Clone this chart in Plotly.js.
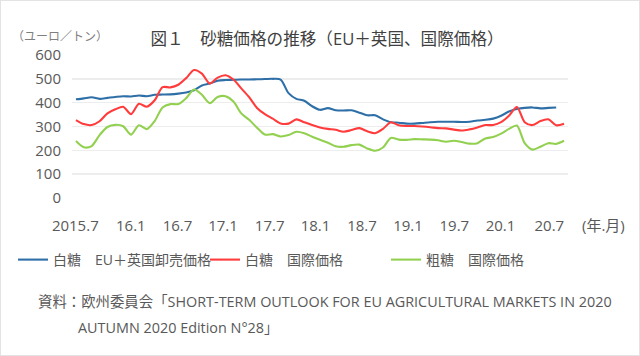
<!DOCTYPE html>
<html>
<head>
<meta charset="utf-8">
<script src="https://cdn.plot.ly/plotly-3.0.1.min.js"></script>
<style>
  html, body { margin: 0; padding: 0; background: #ffffff; }
  #wrap { position: relative; width: 640px; height: 356px; }
  #chart { width: 640px; height: 356px; }
  #frame { position: absolute; left: 0; top: 0; width: 638px; height: 354px; border: 1px solid #e3e3e3; pointer-events: none; }
</style>
</head>
<body>
<div id="wrap"><div id="chart"></div><div id="frame"></div></div>
<script>
// ---- data (monthly, 2015.7 - 2020.9), ユーロ/トン ----
const startYear = 2015, startMonth = 7;
const months = [];
for (let k = 0; k < 63; k++) {
  const m = startMonth - 1 + k;
  months.push((startYear + Math.floor(m / 12)) + '.' + (m % 12 + 1));
}

// 白糖 EU+英国卸売価格 (2015.7 - 2020.8)
const euWhite = [414, 418, 423, 416, 420, 424, 427, 426, 430, 427,
                 433, 434, 435, 438, 443, 452, 472, 480, 492, 495,
                 496, 497, 497, 498, 499, 500, 497, 440, 416, 408,
                 385, 370, 377, 368, 367, 368, 358, 347, 347, 330,
                 318, 316, 312, 312, 315, 318, 320, 320, 320, 319,
                 320, 325, 328, 333, 345, 363, 373, 378, 380, 376,
                 378, 380];

// 白糖 国際価格 (2015.7 - 2020.9)
const worldWhite = [327, 310, 306, 322, 355, 372, 383, 352, 395, 383,
                    410, 465, 464, 475, 503, 537, 522, 480, 505, 515,
                    497, 460, 423, 378, 352, 333, 313, 312, 330, 318,
                    306, 296, 290, 286, 278, 285, 293, 280, 272, 290,
                    318, 305, 302, 302, 300, 297, 293, 292, 287, 283,
                    288, 296, 306, 306, 318, 345, 382, 318, 306, 323,
                    330, 305, 312];

// 粗糖 国際価格 (2015.7 - 2020.9)
const worldRaw = [239, 213, 218, 264, 298, 307, 301, 266, 305, 289,
                  323, 380, 394, 394, 419, 455, 433, 398, 424, 427,
                  405, 355, 328, 295, 266, 268, 258, 264, 278, 272,
                  257, 244, 232, 217, 215, 222, 224, 208, 198, 212,
                  252, 245, 244, 247, 246, 245, 242, 236, 240, 235,
                  228, 230, 250, 256, 270, 290, 304, 230, 203, 215,
                  230, 227, 240];

const seriesNames = ['白糖　EU＋英国卸売価格', '白糖　国際価格', '粗糖　国際価格'];
const seriesColors = ['#2E6FA7', '#FF3B3B', '#92D050'];
const tickLabels = ['2015.7', '16.1', '16.7', '17.1', '17.7', '18.1', '18.7', '19.1', '19.7', '20.1', '20.7'];
const yTicks = [0, 100, 200, 300, 400, 500, 600];

// ---- layout geometry ----
const W = 640, H = 356;
const ML = 72, MR = 72, MT = 55, MB = 158;
const plotW = W - ML - MR;
const unit = plotW / 63;                 // px per month
const px2idx = p => (p - ML) / unit - 0.5;
// label centres as placed in the original (px)
const tickPx = [75.3, 130.8, 177.5, 223, 269.7, 315.5, 362, 408, 454.3, 500.5, 549.3];
const tickvals = tickPx.map(px2idx);

const FONT = "'Open Sans', 'Noto Sans CJK JP', sans-serif";
const TXT = '#595959';

const idx = arr => arr.map((_, i) => i);
const datasets = [euWhite, worldWhite, worldRaw];
const legendIds = ['legend', 'legend2', 'legend3'];
const traces = datasets.map((vals, s) => ({
  type: 'scatter',
  mode: 'lines',
  x: idx(vals),
  y: vals,
  text: months.slice(0, vals.length),
  hovertemplate: '%{text}: %{y}<extra></extra>',
  name: seriesNames[s],
  legend: legendIds[s],
  line: { color: seriesColors[s], width: 2.1, shape: 'spline', smoothing: 0.8 }
}));

const legendTextStart = [55, 247, 428];
const legendBase = {
  orientation: 'h', xref: 'container', yref: 'container',
  yanchor: 'middle', xanchor: 'left',
  font: { family: FONT, size: 14, color: TXT },
  bgcolor: 'rgba(0,0,0,0)', borderwidth: 0, itemwidth: 30
};
function legendAt(s) {
  return Object.assign({}, legendBase, { x: (legendTextStart[s] - 42) / W, y: 1 - 260 / H });
}

const layout = {
  width: W, height: H,
  margin: { l: ML, r: MR, t: MT, b: MB, pad: 0 },
  paper_bgcolor: '#ffffff',
  plot_bgcolor: '#ffffff',
  font: { family: FONT, color: TXT },
  title: {
    text: '図１　砂糖価格の推移（EU＋英国、国際価格）',
    font: { family: FONT, size: 16.6, color: '#404040' },
    xref: 'container', yref: 'container',
    x: 327 / W, y: 1 - 39.5 / H, xanchor: 'center', yanchor: 'middle'
  },
  xaxis: {
    type: 'linear',
    range: [-0.5, 62.5],
    tickmode: 'array', tickvals: tickvals, ticktext: tickLabels,
    showgrid: false, zeroline: false, showline: false, ticks: '',
    ticklabelstandoff: 17,
    tickfont: { family: FONT, size: 15, color: TXT },
    fixedrange: true
  },
  yaxis: {
    range: [0, 600],
    tickmode: 'array', tickvals: yTicks,
    showgrid: true, gridcolor: '#EDEDED', gridwidth: 1.5,
    zeroline: false, showline: false, ticks: '',
    ticklabelstandoff: 10,
    tickfont: { family: FONT, size: 15, color: TXT },
    fixedrange: true
  },
  showlegend: true,
  legend: legendAt(0),
  legend2: legendAt(1),
  legend3: legendAt(2),
  annotations: [
    { xref: 'paper', yref: 'paper', x: (603 - ML) / plotW, y: (H - MB - 225) / (H - MT - MB),
      text: '(年.月)', showarrow: false, xanchor: 'center', yanchor: 'middle',
      font: { family: FONT, size: 15, color: TXT } },
    { xref: 'paper', yref: 'paper', x: (60 - ML) / plotW, y: (H - MB - 36) / (H - MT - MB),
      text: '（ユーロ／トン）', showarrow: false, xanchor: 'center', yanchor: 'middle',
      font: { family: "'Noto Sans CJK JP', sans-serif", size: 12, color: '#7F7F7F' } },
    { xref: 'paper', yref: 'paper', x: (36 - ML) / plotW, y: (H - MB - 301.5) / (H - MT - MB),
      text: '資料：欧州委員会「SHORT-TERM OUTLOOK FOR EU AGRICULTURAL MARKETS IN 2020',
      showarrow: false, xanchor: 'left', yanchor: 'middle',
      font: { family: FONT, size: 14.4, color: TXT } },
    { xref: 'paper', yref: 'paper', x: (76 - ML) / plotW, y: (H - MB - 327.5) / (H - MT - MB),
      text: 'AUTUMN 2020 Edition N°28」',
      showarrow: false, xanchor: 'left', yanchor: 'middle',
      font: { family: FONT, size: 14.4, color: TXT } }
  ]
};

Plotly.newPlot('chart', traces, layout, { displayModeBar: false, staticPlot: true });
</script>
</body>
</html>
